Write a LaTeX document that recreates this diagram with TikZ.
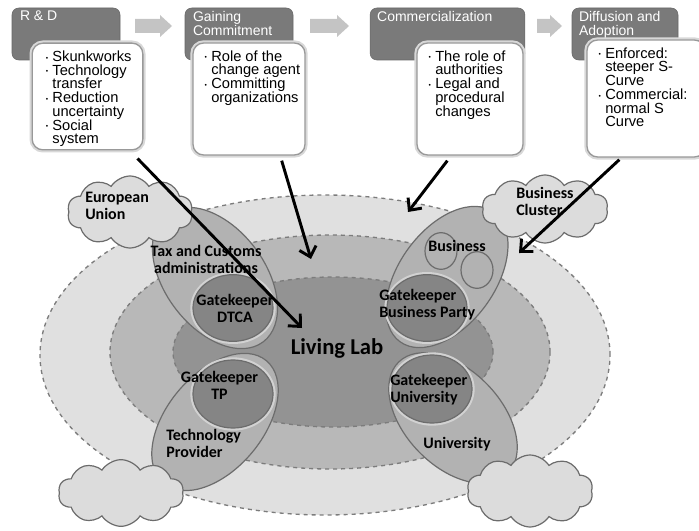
\documentclass[tikz,border=0pt]{standalone}
\usepackage{fontspec}
\setmainfont{Liberation Sans}
\newfontfamily\calfont{Carlito}
\usetikzlibrary{shapes,arrows.meta,positioning}
\definecolor{ringA}{HTML}{E0E0E0}
\definecolor{ringB}{HTML}{B8B8B8}
\definecolor{ringC}{HTML}{939393}
\definecolor{ringline}{HTML}{7C7C7C}
\definecolor{partyfill}{HTML}{B2B2B2}
\definecolor{gatefill}{HTML}{858585}
\definecolor{rim}{HTML}{D2D2D2}
\definecolor{edge}{HTML}{6C6C6C}
\definecolor{cloudfill}{HTML}{DCDCDC}
\definecolor{stagefill}{HTML}{7A7A7A}
\definecolor{stageline}{HTML}{676767}
\definecolor{noteline}{HTML}{999999}
\definecolor{notehalo}{HTML}{D8D8D8}
\definecolor{flowfill}{HTML}{C4C4C4}
\newcommand{\bul}{\makebox[5pt][l]{\raisebox{1pt}{\tiny\textbullet}}}
\newcommand{\cont}{\hspace*{5pt}}

\begin{document}
\begin{tikzpicture}[x=0.75pt,y=-0.75pt]
        \tikzstyle{ring}=[ellipse,dashed,draw=ringline,line width=1pt,inner sep=0pt]
        \tikzstyle{party}=[ellipse,draw=edge,fill=partyfill,line width=0.9pt,inner sep=0pt,minimum width=120pt,minimum height=72pt]
        \tikzstyle{gate}=[ellipse,draw=edge,fill=gatefill,line width=0.9pt,preaction={draw=rim,line width=4pt},inner sep=0pt,minimum width=60pt,minimum height=50pt]
        \tikzstyle{blob}=[ellipse,draw=edge,fill=partyfill,line width=0.9pt,inner sep=0pt,minimum width=24pt,minimum height=27.5pt]
        \tikzstyle{puff}=[cloud,cloud puffs=10,cloud puff arc=115,cloud ignores aspect,draw=edge,fill=cloudfill,line width=0.9pt,inner sep=0pt]
        \tikzstyle{tag}=[font=\calfont\bfseries\fontsize{12}{12.8}\selectfont,align=center,inner sep=0pt]
        \tikzstyle{stagebox}=[rectangle,rounded corners=5pt,fill=stagefill,draw=stageline,inner sep=0pt,minimum height=39pt]
        \tikzstyle{stagetitle}=[text=white,font=\fontsize{10.5}{10.5}\selectfont,align=left,anchor=north west,inner sep=0pt]
        \tikzstyle{notebox}=[rectangle,rounded corners=8pt,fill=white,draw=noteline,line width=1pt,preaction={draw=notehalo,line width=4pt},inner sep=0pt]
        \tikzstyle{notes}=[font={\fontsize{11}{10.3}\selectfont\lineskiplimit=-5pt},align=left,anchor=north west,inner sep=0pt]
        \tikzstyle{flow}=[fill=flowfill]
        \tikzstyle{push}=[line width=2.2pt,-{Straight Barb[length=7pt,width=13pt]}]
        \useasboundingbox (0,0) rectangle (699,531);

        \node[ring,fill=ringA,minimum width=427.5pt,minimum height=240pt] (outer) at (325,355) {};
        \node[ring,fill=ringB,minimum width=330pt,minimum height=175.5pt] (middle) at (330,352) {};
        \node[ring,fill=ringC,minimum width=240pt,minimum height=112.5pt] (inner) at (333,352) {};

        \node[party,minimum height=75pt,rotate=-53] (tax) at (215,278) {};
        \node[party,rotate=54] (biz) at (447,277) {};
        \node[party,rotate=50] (tech) at (215,422) {};
        \node[party,minimum width=117pt,rotate=-46] (uni) at (453,418) {};

        \node[gate] (dtca) at (233,308) {};
        \node[gate] (party) at (427,308) {};
        \node[gate,minimum height=51pt] (tp) at (233,394) {};
        \node[gate,minimum height=51pt] (guni) at (432,389) {};
        \node[blob] (firmA) at (441,251) {};
        \node[blob] (firmB) at (477,270) {};

        \node[puff,minimum width=94pt,minimum height=54pt] (eu) at (130,212) {};
        \node[puff,minimum width=94.5pt,minimum height=51pt] (cluster) at (545,209) {};
        \node[puff,minimum width=94pt,minimum height=50pt] (cloudL) at (121,493) {};
        \node[puff,minimum width=94.5pt,minimum height=54pt] (cloudR) at (530,491) {};

        \node[tag,align=left,anchor=west] (eut) at (85,205.5) {European\\Union};
        \node[tag,align=left,anchor=west] (clustert) at (516,201) {Business\\Cluster};
        \node[tag] (taxt) at (206,259.5) {Tax and Customs\\administrations};
        \node[tag] (dtcat) at (235,308.5) {Gatekeeper\\DTCA};
        \node[tag] (bizt) at (457,246) {Business};
        \node[tag,align=left,anchor=west] (partyt) at (379,304.5) {Gatekeeper\\Business Party};
        \node[tag] (tpt) at (219.5,385) {Gatekeeper\\TP};
        \node[tag,align=left,anchor=west] (techt) at (166,443.5) {Technology\\Provider};
        \node[tag,align=left,anchor=west] (gunit) at (390,389.5) {Gatekeeper\\University};
        \node[tag] (unit) at (457,444) {University};
        \node[tag,font=\calfont\bfseries\fontsize{17}{18}\selectfont] (lab) at (337,348) {Living Lab};

        \foreach \x/\l in {135/25,310/27,537/13}
          \fill[flow] (\x,19) -- ++(\l,0) -- ++(0,-4) -- ++(12,11) -- ++(-12,11) -- ++(0,-4) -- ++(-\l,0) -- cycle;

        \node[stagebox,minimum width=81pt] (rd) at (66,34) {};
        \node[stagebox,minimum width=81pt] (gain) at (239,34) {};
        \node[stagebox,minimum width=116pt] (comm) at (447.5,34) {};
        \node[stagebox,minimum width=79.5pt] (diff) at (625,34) {};
        \node[stagetitle] (rdt) at ([shift={(8,3)}]rd.north west) {R \& D};
        \node[stagetitle] (gaint) at ([shift={(8,3)}]gain.north west) {Gaining\\Commitment};
        \node[stagetitle] (commt) at ([shift={(7,3)}]comm.north west) {Commercialization};
        \node[stagetitle] (difft) at ([shift={(7,3)}]diff.north west) {Diffusion and\\Adoption};

        \node[notebox,minimum width=83pt,minimum height=80pt] (rdn) at (87.5,96.5) {};
        \node[notebox,minimum width=84pt,minimum height=84pt] (gainn) at (249,99) {};
        \node[notebox,minimum width=79.5pt,minimum height=84pt] (commn) at (470,99) {};
        \node[notebox,minimum width=88.5pt,minimum height=87.75pt] (diffn) at (646,98.5) {};

        \node[notes] (rdl) at ([shift={(14,8)}]rdn.north west)
          {\bul Skunkworks\\ \bul Technology\\ \cont transfer\\ \bul Reduction\\ \cont uncertainty\\ \bul Social\\ \cont system};
        \node[notes] (gainl) at ([shift={(12,8)}]gainn.north west)
          {\bul Role of the\\ \cont change agent\\ \bul Committing\\ \cont organizations};
        \node[notes] (comml) at ([shift={(12,8)}]commn.north west)
          {\bul The role of\\ \cont authorities\\ \bul Legal and\\ \cont procedural\\ \cont changes};
        \node[notes] (diffl) at ([shift={(12,8)}]diffn.north west)
          {\bul Enforced:\\ \cont steeper S-\\ \cont Curve\\ \bul Commercial:\\ \cont normal S\\ \cont Curve};

        \coordinate (rdtip) at (302,328);
        \coordinate (gaintip) at (311,259);
        \coordinate (commtip) at (408,212);
        \coordinate (difftip) at (519,253);
        \draw[push] ([shift={(-6,8)}]rdn.south east) -- (rdtip);
        \draw[push] ([shift={(-24,5)}]gainn.south east) -- (gaintip);
        \draw[push] ([shift={(31,5)}]commn.south west) -- (commtip);
        \draw[push] ([shift={(33,2)}]diffn.south west) -- (difftip);
\end{tikzpicture}
\end{document}
